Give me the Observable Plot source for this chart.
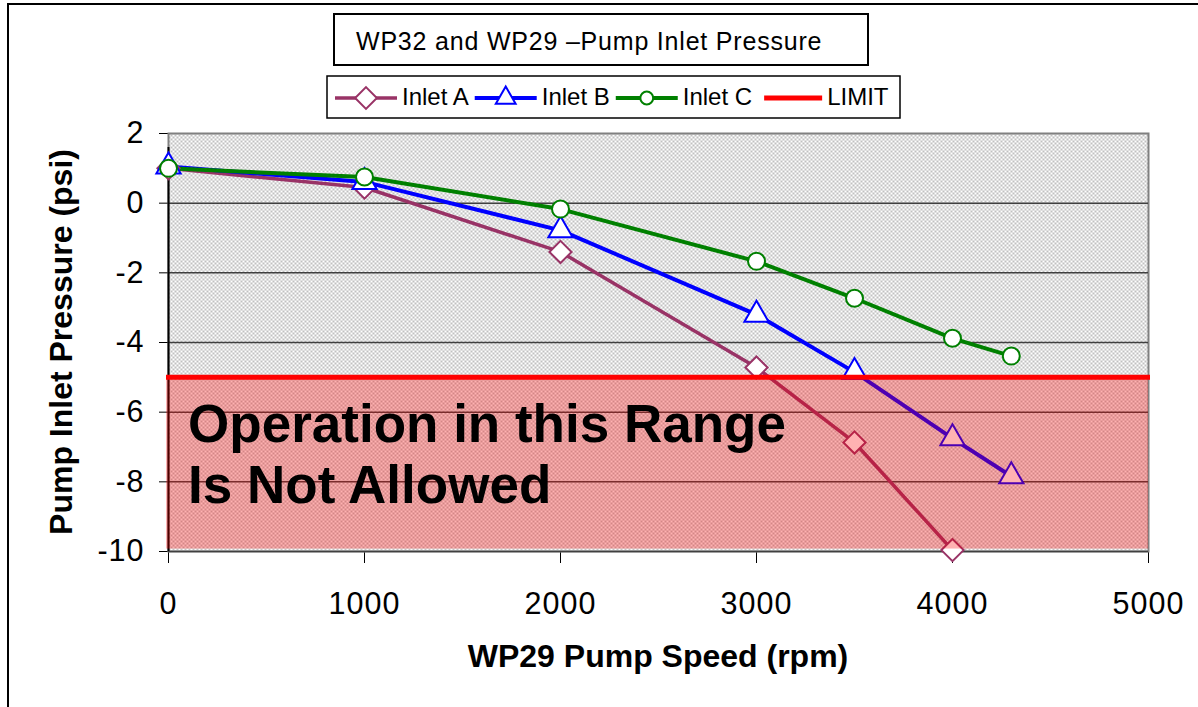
<!DOCTYPE html>
<html><head><meta charset="utf-8">
<script src="https://cdn.jsdelivr.net/npm/d3@7"></script>
<script src="https://cdn.jsdelivr.net/npm/@observablehq/plot@0.6"></script>
<style>
body{margin:0;background:#fff;font-family:"Liberation Sans",Arial,sans-serif;}
#wrap{position:relative;width:1198px;height:707px;overflow:hidden;background:#fff;}
#wrap > *{position:absolute;}
#border{left:7px;top:3px;width:1300px;height:800px;border-left:2px solid #000;border-top:2px solid #000;}
#title{left:333px;top:13px;width:536px;height:53px;box-sizing:border-box;border:2px solid #000;font-size:25px;letter-spacing:0.8px;line-height:49px;padding-left:21px;padding-top:2px;white-space:nowrap;}
#ylabel{left:-189px;top:326px;width:500px;height:32px;line-height:32px;text-align:center;font-weight:bold;font-size:32px;transform:rotate(-90deg);white-space:nowrap;}
#xlabel{left:358px;top:640px;width:600px;height:32px;line-height:32px;text-align:center;font-weight:bold;font-size:32px;white-space:nowrap;}
#chart svg g[aria-label="x-axis tick label"] text, #chart svg g[aria-label="y-axis tick label"] text{letter-spacing:1px;}
</style>
</head><body>
<svg width="0" height="0" style="position:absolute">
 <defs>
  <pattern id="chk" width="4" height="4" patternUnits="userSpaceOnUse">
   <rect width="4" height="4" fill="#ffffff"/>
   <rect width="2" height="2" fill="#c0c0c0"/>
   <rect x="2" y="2" width="2" height="2" fill="#c0c0c0"/>
  </pattern>
 </defs>
</svg>
<div id="wrap">
 <div id="chart" style="left:0;top:0"></div>
 <div id="border"></div>
 <div id="title">WP32 and WP29 –Pump Inlet Pressure</div>
 <svg id="legend" width="1198" height="130" style="left:0;top:0"></svg>
 <div id="ylabel">Pump Inlet Pressure (psi)</div>
 <div id="xlabel">WP29 Pump Speed (rpm)</div>
</div>
<script>
// ---- data ----
const speeds = [0, 1000, 2000, 3000, 3500, 4000, 4300];
const inletA = [1.0, 0.45, -1.4, -4.72, -6.87, -9.96, -11.5];
const inletB = [1.05, 0.61, -0.78, -3.2, -4.85, -6.75, -7.84];
const inletC = [1.0, 0.75, -0.17, -1.67, -2.73, -3.88, -4.39];
const limitValue = -5;
const seriesNames = ["Inlet A", "Inlet B", "Inlet C", "LIMIT"];
const seriesColors = ["#993366", "#0000ff", "#008000", "#ff0000"];
const xTicks = [0, 1000, 2000, 3000, 4000, 5000];
const yTicks = [-10, -8, -6, -4, -2, 0, 2];
const gridValues = [-10, -8, -6, -4, -2, 0];
const limitZone = [{x1: -10, x2: 5000, y1: -5, y2: -9.93}];
const annotation = [
  {x: 100, y: -6.86, text: "Operation in this Range"},
  {x: 100, y: -8.61, text: "Is Not Allowed"}
];

const rows = speeds.map((s, i) => ({speed: s, a: inletA[i], b: inletB[i], c: inletC[i]}));
const fmt = d => String(d);

const chart = Plot.plot({
  width: 1198,
  height: 707,
  marginLeft: 168,
  marginRight: 50,
  marginTop: 133,
  marginBottom: 156,
  style: {fontFamily: "'Liberation Sans', Arial, sans-serif", fontSize: "30.5px", color: "#000", background: "transparent"},
  x: {domain: [0, 5000], ticks: xTicks, tickFormat: fmt, tickSize: 12, tickPadding: 29, label: null},
  y: {domain: [-10, 2], ticks: yTicks, tickFormat: fmt, tickSize: 9, tickPadding: 15, label: null},
  marks: [
    Plot.frame({fill: "url(#chk)", stroke: "#808080", strokeWidth: 2}),
    Plot.ruleY(gridValues, {stroke: "#404040", strokeWidth: 1.5}),
    Plot.ruleX([0], {stroke: "#000", strokeWidth: 2, y1: -10, y2: 2, insetBottom: -14}),
    Plot.line(rows, {x: "speed", y: "a", stroke: seriesColors[0], strokeWidth: 3.5, clip: true}),
    Plot.line(rows, {x: "speed", y: "b", stroke: seriesColors[1], strokeWidth: 4, clip: true}),
    Plot.line(rows, {x: "speed", y: "c", stroke: seriesColors[2], strokeWidth: 4, clip: true}),
    Plot.dot(rows.filter(d => d.a >= -10), {x: "speed", y: "a", symbol: "diamond2", r: 10, fill: "#fff", stroke: seriesColors[0], strokeWidth: 2}),
    Plot.dot(rows, {x: "speed", y: "b", symbol: "triangle", r: 9, fill: "#fff", stroke: seriesColors[1], strokeWidth: 2}),
    Plot.dot(rows, {x: "speed", y: "c", symbol: "circle", r: 8.5, fill: "#fff", stroke: seriesColors[2], strokeWidth: 2}),
    Plot.rect(limitZone, {x1: "x1", x2: "x2", y1: "y1", y2: "y2", fill: "#ff0000", fillOpacity: 0.3}),
    Plot.ruleY([limitValue], {stroke: seriesColors[3], strokeWidth: 5, insetLeft: -2, insetRight: -2}),
    Plot.text(annotation, {x: "x", y: "y", text: "text", textAnchor: "start", lineAnchor: "bottom", fontSize: 53, fontWeight: "bold", fill: "#000"})
  ]
});
document.getElementById("chart").appendChild(chart);

// ---- legend ----
const lg = d3.select("#legend");
lg.append("rect").attr("x", 327).attr("y", 76).attr("width", 573).attr("height", 42)
  .attr("fill", "#fff").attr("stroke", "#000").attr("stroke-width", 1.5);
const symbols = [
  {type: d3.symbolDiamond2, size: 300, lw: 3.5},
  {type: d3.symbolTriangle, size: 170, lw: 4},
  {type: d3.symbolCircle, size: 130, lw: 4},
  {type: null, size: 0, lw: 5}
];
let cx = 335;
const cy = 98;
seriesNames.forEach((name, i) => {
  const len = i === 3 ? 58 : 62;
  lg.append("line").attr("x1", cx).attr("x2", cx + len).attr("y1", cy).attr("y2", cy)
    .attr("stroke", seriesColors[i]).attr("stroke-width", symbols[i].lw);
  if (symbols[i].type) {
    lg.append("path").attr("d", d3.symbol(symbols[i].type, symbols[i].size)())
      .attr("transform", `translate(${cx + len / 2},${cy})`)
      .attr("fill", "#fff").attr("stroke", seriesColors[i]).attr("stroke-width", 2);
  }
  const t = lg.append("text").attr("x", cx + len + 5).attr("y", 105)
    .attr("font-family", "'Liberation Sans', Arial, sans-serif").attr("font-size", 24)
    .attr("fill", "#000").text(name);
  cx = cx + len + 5 + t.node().getComputedTextLength() + (i === 2 ? 12 : 6);
});
</script>
</body></html>
